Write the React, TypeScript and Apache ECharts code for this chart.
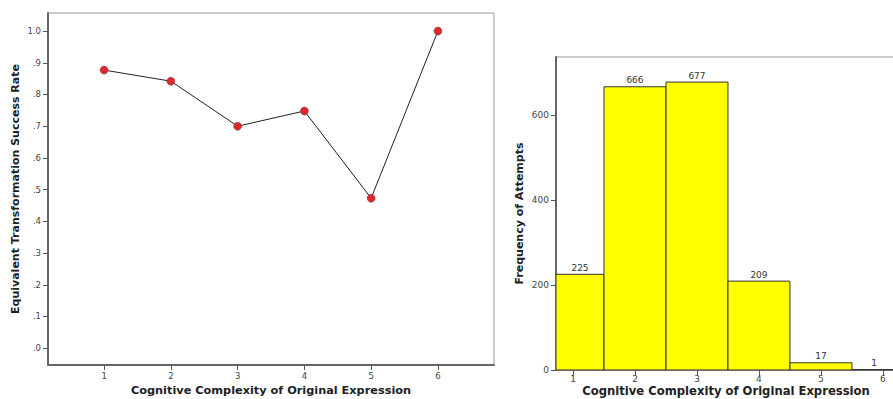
import React, { useEffect, useRef } from "react";
import * as echarts from "echarts";

const complexity = [1, 2, 3, 4, 5, 6];
const successRate = [0.877, 0.842, 0.7, 0.748, 0.473, 1.0];
const frequency = [225, 666, 677, 209, 17, 1];
const rateTicks = [0, 0.1, 0.2, 0.3, 0.4, 0.5, 0.6, 0.7, 0.8, 0.9, 1.0];
const freqTicks = [0, 200, 400, 600];

const FONT = "DejaVu Sans";

export default function App() {
  const ref = useRef<HTMLDivElement>(null);
  useEffect(() => {
    const chart = echarts.init(ref.current!, null, { renderer: "svg" });
    const axisLine = { show: true, onZero: false, lineStyle: { color: "#666", width: 2 } };
    const tick = { show: true, length: 5, lineStyle: { color: "#555", width: 1 } };
    const labelStyle = { color: "#444", fontSize: 8.5, fontFamily: FONT };
    const labelStyleR = { color: "#444", fontSize: 9, fontFamily: FONT };
    const nameStyle = { color: "#222", fontSize: 11, fontWeight: "bold" as const, fontFamily: FONT };
    chart.setOption({
      animation: false,
      grid: [
        { left: 48, top: 13, width: 446, height: 352, show: true, borderColor: "#999", borderWidth: 1, backgroundColor: "transparent", outerBoundsMode: "none", containLabel: false },
        { left: 556, top: 57, width: 340, height: 313, show: true, borderColor: "#999", borderWidth: 1, backgroundColor: "transparent", outerBoundsMode: "none", containLabel: false },
      ],
      xAxis: [
        {
          gridIndex: 0, type: "value", min: 0.16, max: 6.84,
          axisLine, axisTick: { ...tick, customValues: complexity },
          axisLabel: { ...labelStyle, customValues: complexity, margin: 6 },
          splitLine: { show: false },
          name: "Cognitive Complexity of Original Expression", nameLocation: "middle", nameGap: 20,
          nameTextStyle: { ...nameStyle, fontSize: 11.3 },
        },
        {
          gridIndex: 1, type: "value", min: 0.726, max: 6.21,
          axisLine, axisTick: { ...tick, customValues: complexity },
          axisLabel: { ...labelStyleR, customValues: complexity, margin: 4 },
          splitLine: { show: false },
          name: "Cognitive Complexity of Original Expression", nameLocation: "middle", nameGap: 14,
          nameMoveOverlap: false,
          nameTextStyle: { ...nameStyle, fontSize: 11.6, lineHeight: 13 },
        },
      ],
      yAxis: [
        {
          gridIndex: 0, type: "value", min: -0.053, max: 1.057,
          axisLine, axisTick: { ...tick, customValues: rateTicks },
          axisLabel: {
            ...labelStyle, customValues: rateTicks, margin: 7,
            formatter: (v: number) => (v >= 0.999 ? "1.0" : "." + Math.round(v * 10)),
          },
          splitLine: { show: false },
          name: "Equivalent Transformation Success Rate", nameLocation: "middle", nameGap: 27, nameTextStyle: nameStyle,
        },
        {
          gridIndex: 1, type: "value", min: 0, max: 736,
          axisLine, axisTick: { ...tick, customValues: freqTicks },
          axisLabel: { ...labelStyleR, customValues: freqTicks, margin: 7 },
          splitLine: { show: false },
          name: "Frequency of Attempts", nameLocation: "middle", nameGap: 31, nameTextStyle: nameStyle,
        },
      ],
      series: [
        {
          type: "line", xAxisIndex: 0, yAxisIndex: 0,
          data: complexity.map((c, i) => [c, successRate[i]]),
          lineStyle: { color: "#222", width: 1 },
          symbol: "circle", symbolSize: 8,
          itemStyle: { color: "#e3262c", borderColor: "#555", borderWidth: 0.6 },
          z: 3,
        },
        {
          type: "custom", xAxisIndex: 1, yAxisIndex: 1,
          data: complexity.map((c, i) => [c, frequency[i]]),
          clip: true,
          renderItem: (params: any, api: any) => {
            const x = api.value(0);
            const y = api.value(1);
            const p0 = api.coord([x - 0.5, 0]);
            const p1 = api.coord([x + 0.5, y]);
            const cs = params.coordSys;
            const rect = echarts.graphic.clipRectByRect(
              { x: p0[0], y: p1[1], width: p1[0] - p0[0], height: p0[1] - p1[1] },
              { x: cs.x, y: cs.y, width: cs.width, height: cs.height }
            );
            if (!rect) return null;
            return {
              type: "group",
              children: [
                {
                  type: "rect",
                  shape: rect,
                  style: { fill: "#ffff00", stroke: "#333", lineWidth: 1 },
                },
                {
                  type: "text",
                  x: rect.x + rect.width / 2,
                  y: rect.y - 2,
                  style: {
                    text: String(y),
                    fill: "#333",
                    fontSize: 9,
                    fontFamily: FONT,
                    align: "center",
                    verticalAlign: "bottom",
                  },
                },
              ],
            };
          },
        },
      ],
    });
    return () => chart.dispose();
  }, []);
  return (
    <div
      ref={ref}
      style={{ position: "absolute", left: 0, top: 0, width: 893, height: 399, background: "#fff" }}
    />
  );
}
